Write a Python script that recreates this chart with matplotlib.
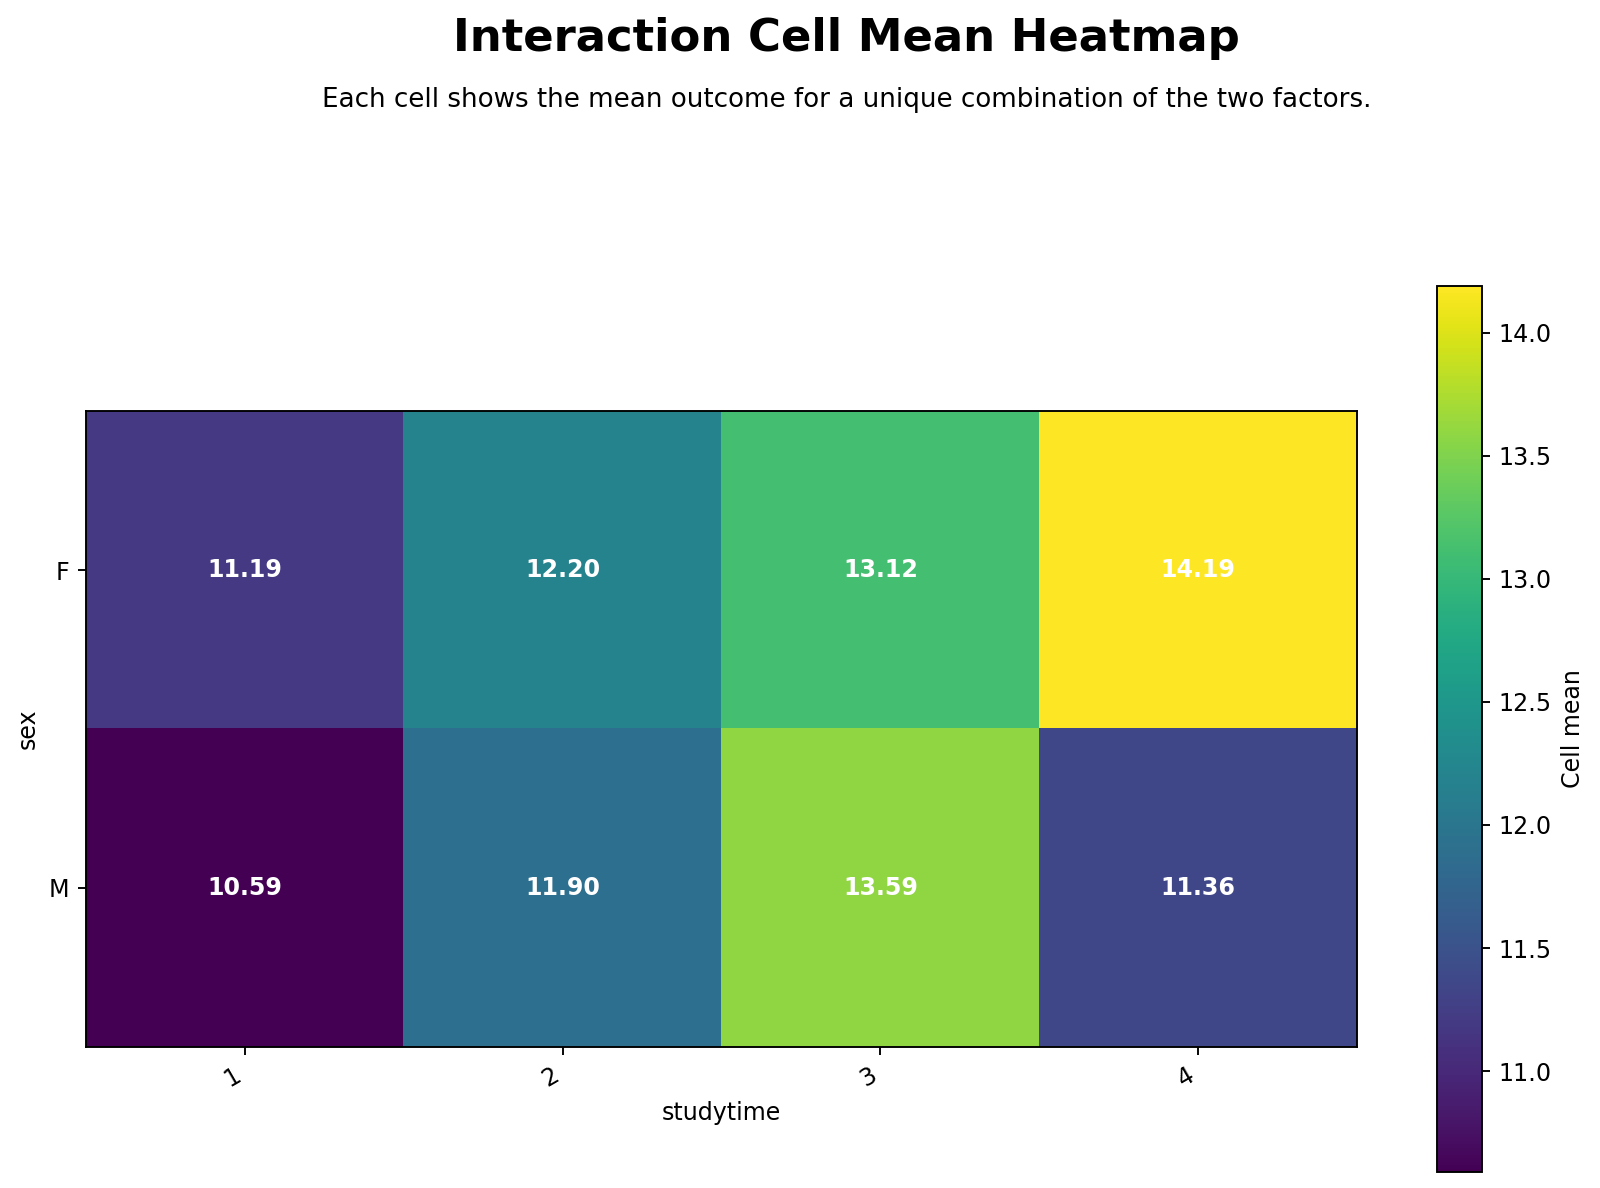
import numpy as np
import matplotlib
matplotlib.use("Agg")
import matplotlib.pyplot as plt

studytime = ["1", "2", "3", "4"]
sex = ["F", "M"]
means_F = [11.19, 12.20, 13.12, 14.19]
means_M = [10.59, 11.90, 13.59, 11.36]

data = np.array([means_F, means_M])

DPI = 1600 / 9.375
fig = plt.figure(figsize=(9.375, 1188 / DPI), dpi=DPI)
W, H = 1600.0, 1188.0
# axes box in pixel coords: x 86..1357, y 286..1172 (from top)
ax = fig.add_axes([86 / W, 1 - 1172 / H, (1357 - 86) / W, (1172 - 286) / H])
cax = fig.add_axes([1437 / W, 1 - 1172 / H, 45 / W, (1172 - 286) / H])

im = ax.imshow(data, cmap="viridis")

ax.set_xticks(range(len(studytime)))
ax.set_xticklabels(studytime, rotation=30, ha="right")
ax.set_yticks(range(len(sex)))
ax.set_yticklabels(sex)
ax.set_xlabel("studytime")
ax.set_ylabel("sex")

for i in range(data.shape[0]):
    for j in range(data.shape[1]):
        ax.text(j, i, f"{data[i, j]:.2f}", ha="center", va="center",
                color="white", fontweight="bold", fontsize=10)

cb = fig.colorbar(im, cax=cax)
cb.set_label("Cell mean")

fig.text(0.529, 1 - 38 / H, "Interaction Cell Mean Heatmap", ha="center", va="center",
         fontsize=19, fontweight="bold")
fig.text(0.529, 1 - 100 / H, "Each cell shows the mean outcome for a unique combination of the two factors.",
         ha="center", va="center", fontsize=11)

fig.savefig("out.png", dpi=DPI)
